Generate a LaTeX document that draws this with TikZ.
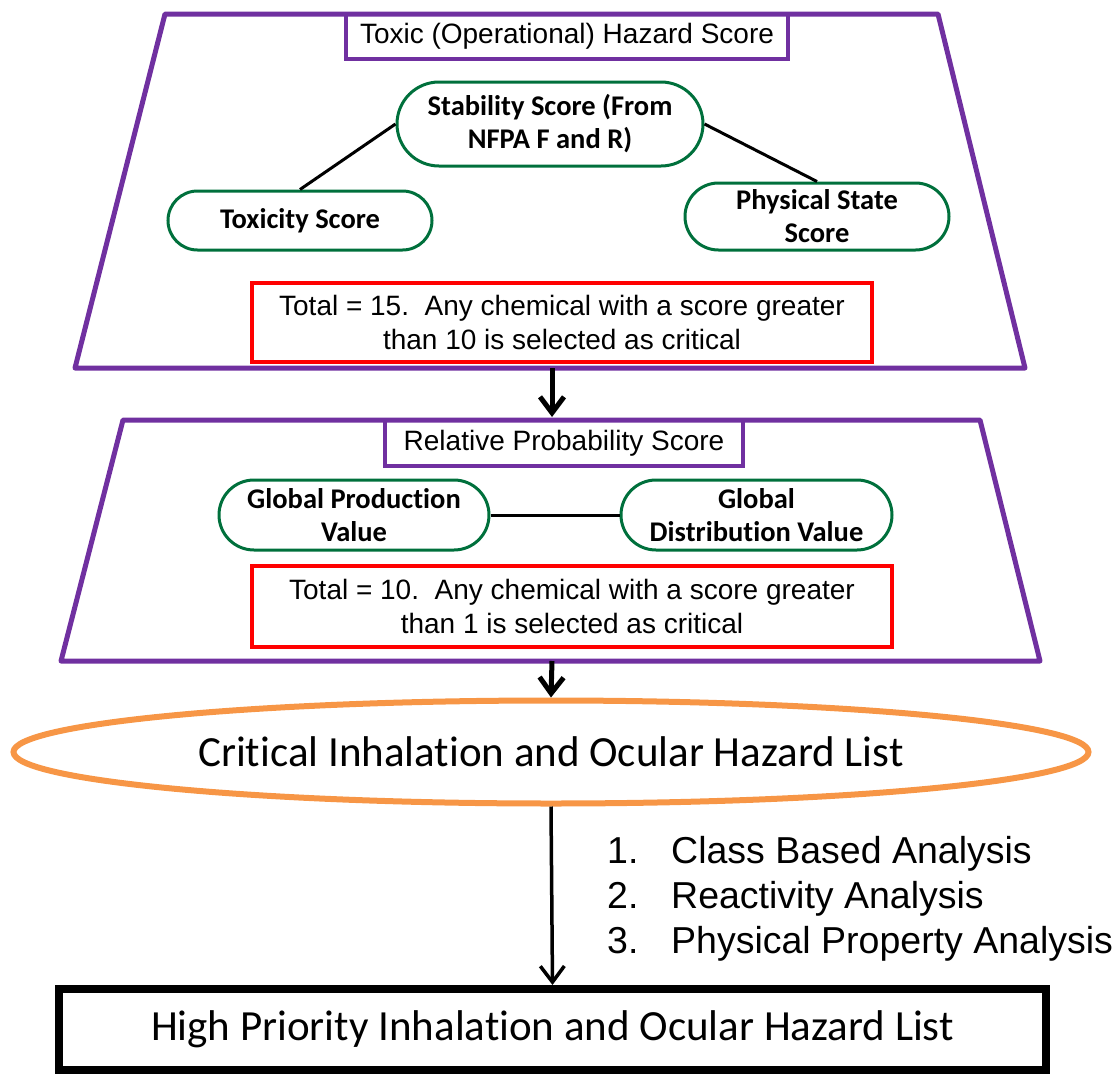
\documentclass[tikz,border=0pt]{standalone}
\usepackage{fontspec}
\setmainfont{Liberation Sans}
\newfontfamily\calibri[Ligatures={NoCommon}]{Carlito}
\usetikzlibrary{shapes.geometric,shapes.misc,arrows.meta}
\definecolor{hzpurple}{HTML}{7030A0}
\definecolor{hzgreen}{HTML}{00703C}
\definecolor{hzorange}{HTML}{F79646}
\definecolor{hzred}{HTML}{FF0000}

\begin{document}
\begin{tikzpicture}
	[x=1pt, y=-1pt,
	 stage/.style={draw=hzpurple, line width=5pt, line join=round},
	 title/.style={rectangle, draw=hzpurple, line width=4pt, inner sep=0pt, font=\fontsize{28}{34}\selectfont},
	 factor/.style={rounded rectangle, draw=hzgreen, line width=3pt, inner sep=0pt, align=center, font=\calibri\bfseries\fontsize{28.5}{33}\selectfont},
	 total/.style={rectangle, draw=hzred, line width=4pt, inner sep=0pt, align=center, font=\fontsize{28}{34}\selectfont},
	 link/.style={line width=3pt},
	 flow/.style={-{Straight Barb[length=16pt,width=24pt]}, line width=5pt}]
	\useasboundingbox (0,0) rectangle (1120,1074);

	% toxic hazard stage
	\draw[stage] (165,14) -- (938,14) -- (1025,368) -- (75,368) -- cycle;
	\coordinate (t1s) at (552,368);
	\node[title, minimum width=442pt, minimum height=45pt] (toxtitle) at (567,36.5) {Toxic (Operational) Hazard Score};
	\node[factor, minimum width=306pt, minimum height=84pt] (stab) at (550,124) {Stability Score (From\\NFPA F and R)};
	\node[factor, minimum width=264pt, minimum height=59pt] (tox) at (300,220.5) {Toxicity Score};
	\node[factor, minimum width=264pt, minimum height=67pt] (phys) at (817,216.5) {Physical State\\Score};
	\node[total, minimum width=620pt, minimum height=79pt] (toxtotal) at (562,322.5) {Total = 15.\ \ Any chemical with a score greater\\than 10 is selected as critical};

	\draw[link] (tox.north) -- (stab.west);
	\draw[link] (stab.east) -- (phys.north);

	% probability stage
	\draw[stage] (123,420) -- (980,420) -- (1040,661) -- (61,661) -- cycle;
	\coordinate (t2n) at (552,420);
	\coordinate (t2s) at (552,661);
	\node[title, minimum width=358pt, minimum height=46pt] (probtitle) at (564,443) {Relative Probability Score};
	\node[factor, minimum width=270pt, minimum height=70pt] (prod) at (354,515) {Global Production\\Value};
	\node[factor, minimum width=271pt, minimum height=70pt] (dist) at (756.5,515) {Global\\Distribution Value};
	\node[total, minimum width=640pt, minimum height=81pt] (probtotal) at (572,606.5) {Total = 10.\ \ Any chemical with a score greater\\than 1 is selected as critical};

	\draw[link] (prod.east) -- (dist.west);

	% lists
	\node[ellipse, draw=hzorange, line width=6pt, minimum width=1075pt, minimum height=103pt, inner sep=0pt, font=\calibri\fontsize{43}{50}\selectfont] (crit) at (551,752) {Critical Inhalation and Ocular Hazard List};
	\node[rectangle, draw=black, line width=8pt, minimum width=987pt, minimum height=81pt, inner sep=0pt, font=\calibri\fontsize{43}{50}\selectfont] (high) at (552.5,1029.5) {High Priority Inhalation and Ocular Hazard List};
	\node[anchor=north west, inner sep=0pt, font=\fontsize{37.5}{45}\selectfont] (steps) at (607,832) {\begin{tabular}{@{}p{64pt}@{}l@{}}1. & Class Based Analysis\\2. & Reactivity Analysis\\3. & Physical Property Analysis\end{tabular}};

	\draw[flow, shorten >=3pt] (t1s) -- (t2n);
	\draw[flow] (t2s) -- (crit.north);
	\draw[flow, line width=3.5pt] (crit.south) -- (high.north);
\end{tikzpicture}
\end{document}
